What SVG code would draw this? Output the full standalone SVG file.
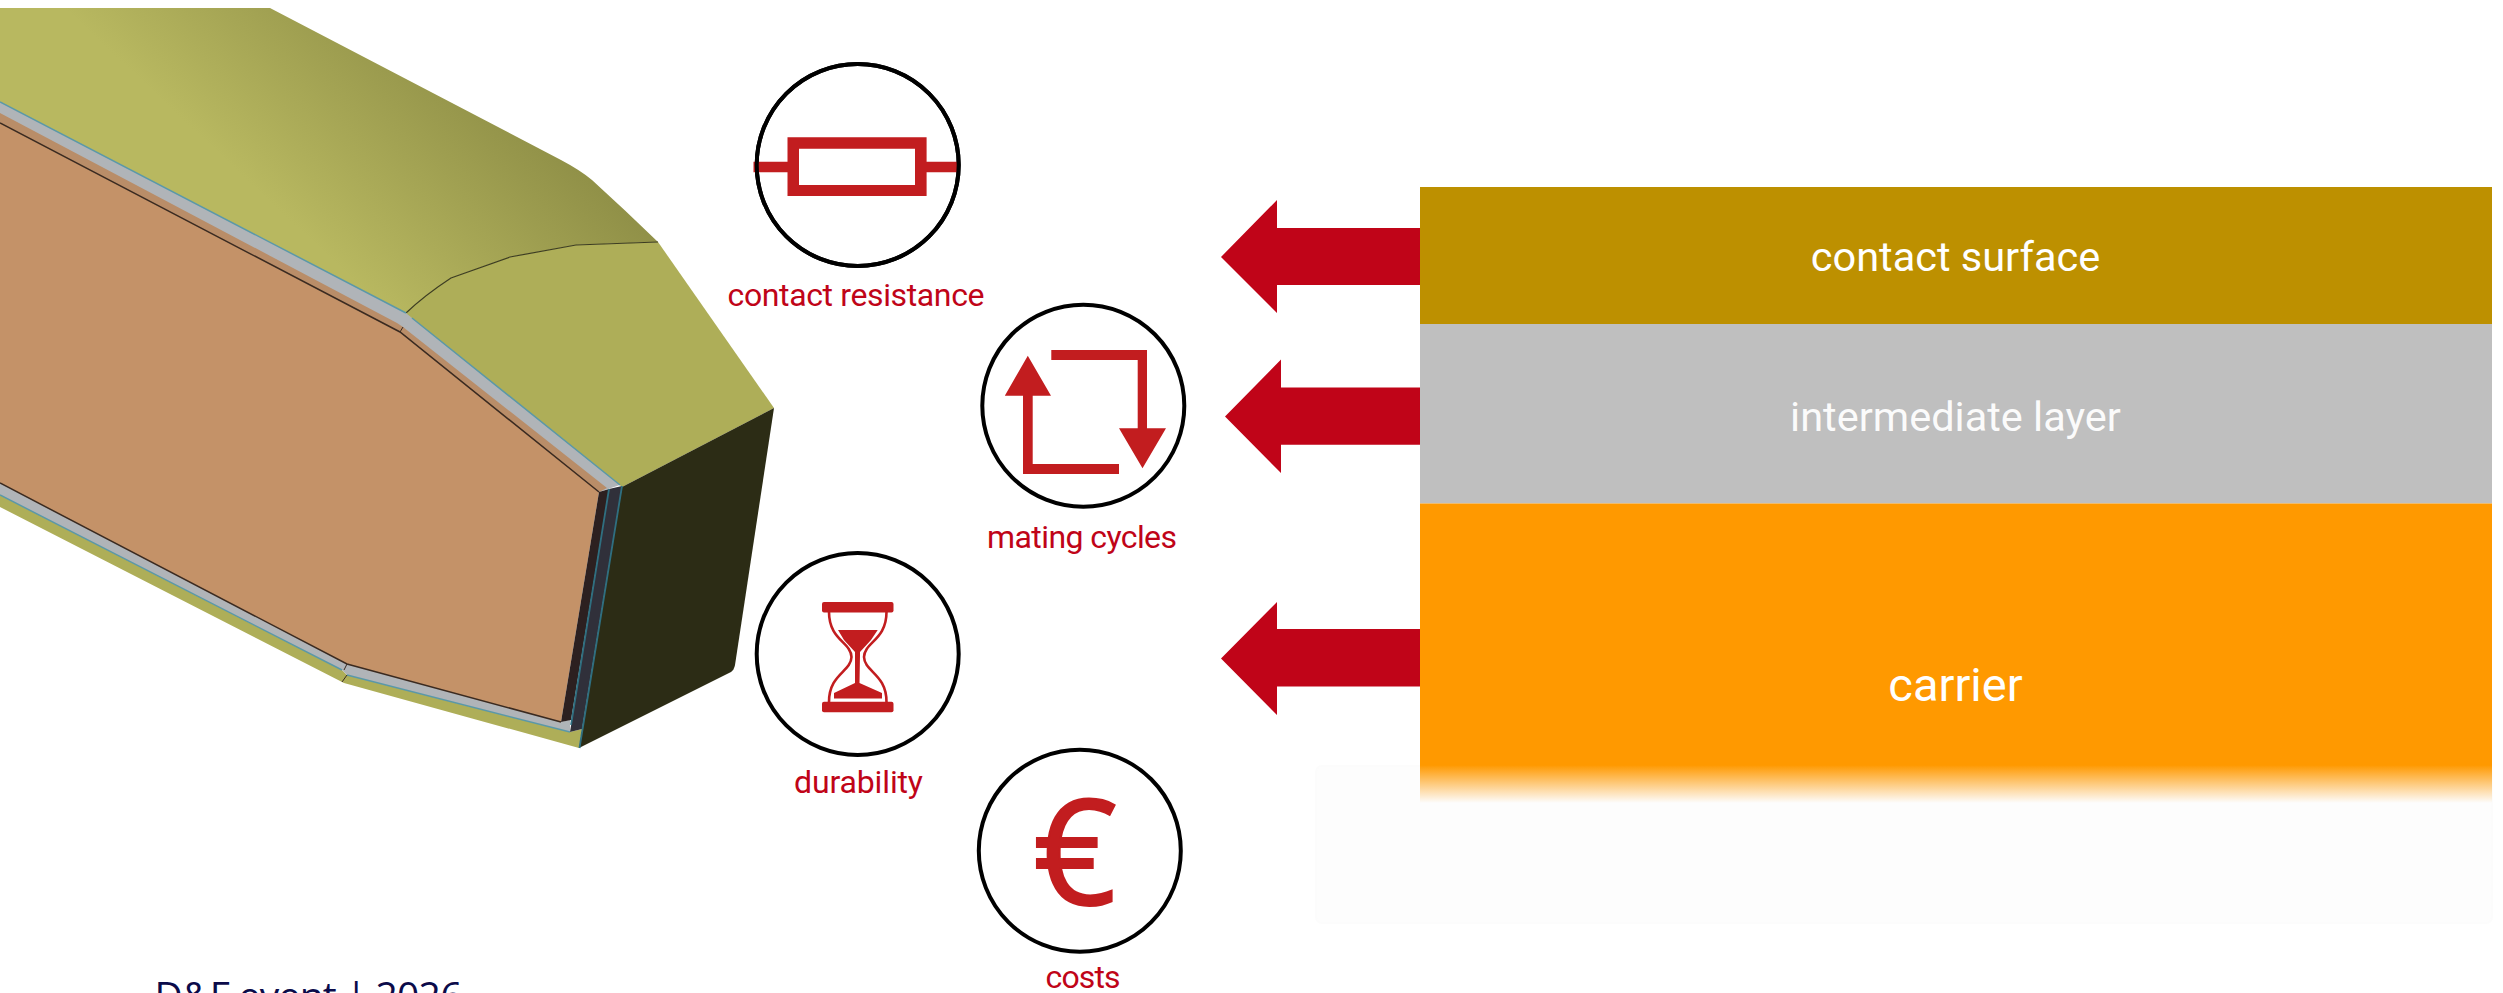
<svg xmlns="http://www.w3.org/2000/svg" width="2503" height="993" viewBox="0 0 2503 993">
<style>
.lbl{font-family:"Roboto","Liberation Sans",sans-serif;font-size:32px;fill:#c00418;text-anchor:middle}
.lay{font-family:"Roboto","Liberation Sans",sans-serif;font-size:41.500px;fill:#fff;text-anchor:middle}
.ring{fill:#fff;stroke:#000;stroke-width:4}
.ico{fill:#c21d1f}
.arrow{fill:#c00418}
</style>
<defs>
<linearGradient id="gTop" gradientUnits="userSpaceOnUse" x1="300" y1="230" x2="460" y2="60">
<stop offset="0" stop-color="#b8b860"/><stop offset="1" stop-color="#919148"/>
</linearGradient>
<linearGradient id="fade" x1="0" y1="0" x2="0" y2="1">
<stop offset="0" stop-color="#ff9900"/><stop offset="1" stop-color="#ff9900" stop-opacity="0"/>
</linearGradient>
</defs>
<rect width="2503" height="993" fill="#fff"/>
<g id="cad-model">
<path fill="url(#gTop)" d="M0,8L270,8L561,160Q580,170 592,180Q625,210 658,242L576,245L510,257L451,278Q425,295 406,313L0,102Z"/>
<path fill="#aeae58" d="M406,313Q425,295 451,278L510,257L576,245L658,242L774,408L622,487L410,320Z"/>
<path fill="none" stroke="#3c3c20" stroke-width="1.2" d="M406,313Q425,295 451,278L510,257L576,245L658,242"/>
<path fill="#2c2c15" d="M622,487L774,408L735,665Q734,670 731,672L579,748Z"/>
<path fill="#aeae58" d="M0,495L342,670L347,675L570,732L582,729L579,748L344,683L0,507Z"/>
<path fill="#b0b4b8" d="M0,102L406,313L412,318L620,485L599,492L400,332L0,123Z"/>
<path fill="#b0b4b8" d="M0,483L347,664L561,722L570,720L570,732L347,675L342,670L0,495Z"/>
<path fill="#c49268" d="M0,123L400,332L599,492L561,722L347,664L0,483Z"/>
<path fill="#b98d68" d="M0,113L397,323L403,327L607,488L599,492L400,332L0,123Z"/>
<path fill="none" stroke="#5a98a8" stroke-width="1.5" d="M0,102L406,313M412,318L620,485M0,495L342,670M347,675L570,732"/>
<path fill="none" stroke="#3a2a20" stroke-width="1.5" d="M0,123L400,332L599,492M0,483L347,664L561,722"/>
<path fill="none" stroke="#3a2a20" stroke-width="1" d="M400,332L403,327M342,682L347,675M347,664L344,670"/>
<path fill="#2c2020" d="M599,492L609,489L571,720L561,722Z"/>
<path fill="#30303a" d="M609,489L622,486L582,729L570,732Z"/>
<path fill="none" stroke="#2f6f80" stroke-width="1.8" d="M609,489L571,725M622,486L579.500,748"/>
</g>
<g id="contact-resistance">
<circle class="ring" cx="857.7" cy="165" r="101"/>
<path class="ico" fill-rule="evenodd" d="M753.5,161.7H787.5V137.3H926.6V161.7H958V172.3H926.6V196H787.5V172.3H753.5ZM799,148.7V185H915V148.7Z"/>
<circle cx="857.7" cy="165" r="101" fill="none" stroke="#000" stroke-width="4"/>
<text class="lbl" x="856" y="306" textLength="257">contact resistance</text>
</g>
<g id="mating-cycles">
<circle class="ring" cx="1083.3" cy="405.7" r="101"/>
<path class="ico" d="M1051.3,350H1147V428.3H1166L1142.5,468.3L1119,428.3H1137.7V360H1051.3Z"/>
<path class="ico" d="M1027.8,355.7L1051,395.7H1032.7V464H1119V474H1023V395.7H1004.8Z"/>
<text class="lbl" x="1082" y="548" textLength="190">mating cycles</text>
</g>
<g id="durability">
<circle class="ring" cx="857.7" cy="654" r="101"/>
<rect class="ico" x="822" y="602" width="71.5" height="10.5" rx="2"/>
<rect class="ico" x="822" y="701.7" width="71.5" height="10.5" rx="2"/>
<path fill="none" stroke="#c21d1f" stroke-width="2.6" d="M829,612C829,640 851,642 851.5,657C851,672 829,674 829,702M886.5,612C886.5,640 864.5,642 864,657C864.5,672 886.5,674 886.5,702"/>
<path class="ico" d="M838,630H877.7L871,640L860,652V655L859.5,683L882,693V698.5H834V693L855,683V655L855,652L844,640Z"/>
<text class="lbl" x="858.5" y="793" textLength="129">durability</text>
</g>
<g id="costs">
<circle class="ring" cx="1079.8" cy="850.7" r="101"/>
<text x="1075" y="905" text-anchor="middle" stroke="#c21d1f" stroke-width="2" style="font-family:'Open Sans','Noto Sans',sans-serif;font-size:146px;fill:#c21d1f">€</text>
<text class="lbl" x="1083" y="988" textLength="75">costs</text>
</g>
<g id="layer-stack">
<rect x="1316" y="766" width="1176" height="157" rx="6" fill="#fdfdfd" stroke="#fcfcfc" stroke-width="2"/>
<rect id="contact-surface" x="1420" y="187" width="1072" height="137" fill="#bd9000"/>
<rect id="intermediate-layer" x="1420" y="324" width="1072" height="179.500" fill="#bfbfbf"/>
<rect id="carrier" x="1420" y="503.500" width="1072" height="262" fill="#ff9900"/>
<rect x="1420" y="765" width="1072" height="38" fill="url(#fade)"/>
<text class="lay" x="1955.5" y="271">contact surface</text>
<text class="lay" x="1955.500" y="431" fill-opacity="0.95">intermediate layer</text>
<text class="lay" x="1955.500" y="701" style="font-size:47px">carrier</text>
</g>
<g id="connectors">
<path class="arrow" d="M1420,228H1277V200L1221,257L1277,313V285H1420Z"/>
<path class="arrow" d="M1420,387.500H1281V359.500L1225,416.500L1281,473V444.700H1420Z"/>
<path class="arrow" d="M1420,629H1277V602L1221,658.500L1277,715V686.500H1420Z"/>
</g>
<g id="footer">
<text x="154.500" y="1010" style="font-family:'Open Sans','Noto Sans',sans-serif;font-size:39px;fill:#0b0b4a" textLength="308">D&amp;F event | 2026</text>
</g>
</svg>
